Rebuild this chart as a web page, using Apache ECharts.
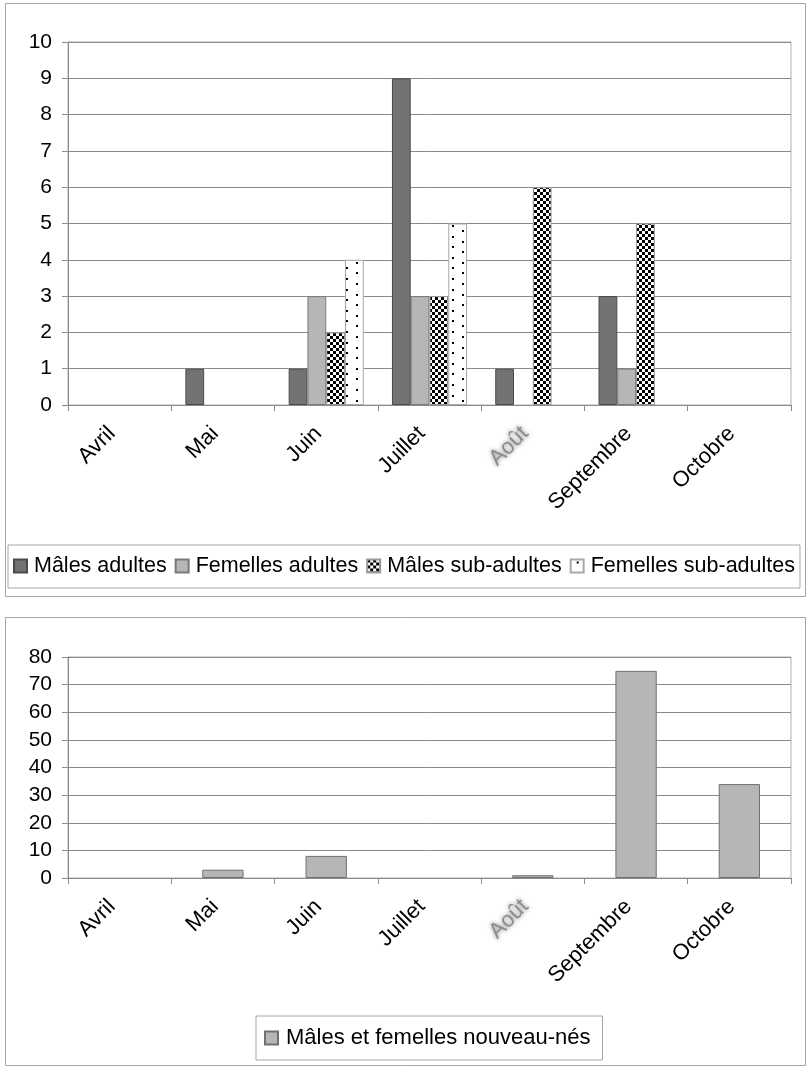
<!DOCTYPE html>
<html>
<head>
<meta charset="utf-8">
<script src="https://cdn.jsdelivr.net/npm/echarts@6/dist/echarts.min.js"></script>
<style>
  html, body { margin: 0; padding: 0; background: #fff; }
  #chart { width: 806px; height: 1066px; }
</style>
</head>
<body>
<div id="chart"></div>
<script>
// Monthly counts by age/sex class
const months = ['Avril', 'Mai', 'Juin', 'Juillet', 'Août', 'Septembre', 'Octobre'];

const malesAdults = [0, 1, 1, 9, 1, 3, 0];
const femalesAdults = [0, 0, 3, 3, 0, 1, 0];
const malesSubAdults = [0, 0, 2, 3, 6, 5, 0];
const femalesSubAdults = [0, 0, 4, 5, 0, 0, 0];

const newborns = [0, 3, 8, 0, 1, 75, 34];

const seriesNamesTop = ['Mâles adultes', 'Femelles adultes', 'Mâles sub-adultes', 'Femelles sub-adultes'];
const seriesNameBottom = 'Mâles et femelles nouveau-nés';

const FONT = '"Liberation Sans", Arial, sans-serif';

// Empty months get no bar at all (not even a flat outline)
const bars = values => values.map(v => (v === 0 ? null : v));

// Checkerboard fill
function checkerPattern() {
  const c = document.createElement('canvas');
  c.width = 6; c.height = 6;
  const g = c.getContext('2d');
  g.fillStyle = '#fff'; g.fillRect(0, 0, 6, 6);
  g.fillStyle = '#000';
  g.fillRect(0, 0, 3, 3);
  g.fillRect(3, 3, 3, 3);
  return c;
}

// Sparse dot fill
function dotPattern() {
  const size = 53;
  const c = document.createElement('canvas');
  c.width = size; c.height = size;
  const g = c.getContext('2d');
  g.fillStyle = '#fff'; g.fillRect(0, 0, size, size);
  g.fillStyle = '#000';
  const cols = [6, 17, 28, 38, 49];
  const rows = [2, 13, 24, 34, 45];
  cols.forEach((x, i) => {
    rows.forEach(y => {
      const yy = (y + (i % 2 ? 5 : 0)) % size;
      g.fillRect(x, yy, 2, 2);
    });
  });
  return c;
}

const checker = { image: checkerPattern(), repeat: 'repeat' };
const dots = { image: dotPattern(), repeat: 'repeat' };

const gridColor = '#8a8a8a';
const frameColor = '#a6a6a6';

function xAxisFor(gridIndex) {
  return {
    type: 'category',
    gridIndex: gridIndex,
    data: months,
    boundaryGap: true,
    axisLine: { show: true, lineStyle: { color: gridColor, width: 1 } },
    axisTick: { show: true, length: 6, alignWithLabel: false, lineStyle: { color: gridColor } },
    axisLabel: {
      interval: 0,
      rotate: 45,
      margin: 33,
      verticalAlign: 'bottom',
      fontFamily: FONT,
      fontSize: 22,
      lineHeight: 22,
      color: '#000',
      formatter: v => v === 'Août' ? '{dim|' + v + '}' : v,
      rich: {
        dim: {
          fontFamily: FONT,
          fontSize: 22,
          lineHeight: 22,
          color: '#8c8c8c',
          textShadowColor: 'rgba(90,90,90,0.8)',
          textShadowBlur: 4
        }
      }
    }
  };
}

function yAxisFor(gridIndex, max, interval) {
  return {
    type: 'value',
    gridIndex: gridIndex,
    min: 0,
    max: max,
    interval: interval,
    axisLine: { show: true, lineStyle: { color: gridColor, width: 1 } },
    axisTick: { show: true, length: 6, lineStyle: { color: gridColor } },
    axisLabel: { margin: 16, fontFamily: FONT, fontSize: 21, color: '#000' },
    splitLine: { show: true, lineStyle: { color: gridColor, width: 1 } }
  };
}

const option = {
  animation: false,
  backgroundColor: '#fff',
  textStyle: { fontFamily: FONT },
  graphic: [
    { type: 'rect', shape: { x: 5.5, y: 3.5, width: 800, height: 593 },
      style: { fill: 'none', stroke: frameColor, lineWidth: 1 }, z: -1 },
    { type: 'rect', shape: { x: 5.5, y: 617.5, width: 800, height: 448 },
      style: { fill: 'none', stroke: frameColor, lineWidth: 1 }, z: -1 }
  ],
  grid: [
    { left: 68, right: 15, top: 42, height: 363, show: true, borderColor: '#b0b0b0', borderWidth: 1 },
    { left: 68, right: 15, top: 657, height: 221, show: true, borderColor: '#b0b0b0', borderWidth: 1 }
  ],
  xAxis: [xAxisFor(0), xAxisFor(1)],
  yAxis: [yAxisFor(0, 10, 1), yAxisFor(1, 80, 10)],
  legend: [
    {
      data: seriesNamesTop,
      left: 8,
      right: 0,
      top: 545,
      orient: 'horizontal',
      padding: [10, 5, 11, 5],
      itemGap: 8,
      itemWidth: 13,
      itemHeight: 13,
      icon: 'rect',
      borderColor: frameColor,
      borderWidth: 1,
      textStyle: { fontFamily: FONT, fontSize: 21.5, color: '#000', padding: [0, 0, 0, 2] }
    },
    {
      data: [seriesNameBottom],
      left: 256,
      top: 1016,
      padding: [11, 12, 11, 8],
      itemWidth: 13,
      itemHeight: 13,
      icon: 'rect',
      borderColor: frameColor,
      borderWidth: 1,
      textStyle: { fontFamily: FONT, fontSize: 22, color: '#000', padding: [0, 0, 0, 3] }
    }
  ],
  series: [
    {
      name: seriesNamesTop[0], type: 'bar', xAxisIndex: 0, yAxisIndex: 0,
      data: bars(malesAdults), barGap: 0, barCategoryGap: '27.3%',
      itemStyle: { color: '#737373', borderColor: '#4a4a4a', borderWidth: 1 }
    },
    {
      name: seriesNamesTop[1], type: 'bar', xAxisIndex: 0, yAxisIndex: 0,
      data: bars(femalesAdults), barGap: 0, barCategoryGap: '27.3%',
      itemStyle: { color: '#b6b6b6', borderColor: '#7a7a7a', borderWidth: 1 }
    },
    {
      name: seriesNamesTop[2], type: 'bar', xAxisIndex: 0, yAxisIndex: 0,
      data: bars(malesSubAdults), barGap: 0, barCategoryGap: '27.3%',
      itemStyle: { color: checker, borderColor: '#9a9a9a', borderWidth: 1 }
    },
    {
      name: seriesNamesTop[3], type: 'bar', xAxisIndex: 0, yAxisIndex: 0,
      data: bars(femalesSubAdults), barGap: 0, barCategoryGap: '27.3%',
      itemStyle: { color: dots, borderColor: '#a8a8a8', borderWidth: 1 }
    },
    {
      name: seriesNameBottom, type: 'bar', xAxisIndex: 1, yAxisIndex: 1,
      data: bars(newborns), barCategoryGap: '60%',
      itemStyle: { color: '#b6b6b6', borderColor: '#707070', borderWidth: 1 }
    }
  ]
};

const chart = echarts.init(document.getElementById('chart'), null, { renderer: 'canvas' });
chart.setOption(option);
</script>
</body>
</html>
